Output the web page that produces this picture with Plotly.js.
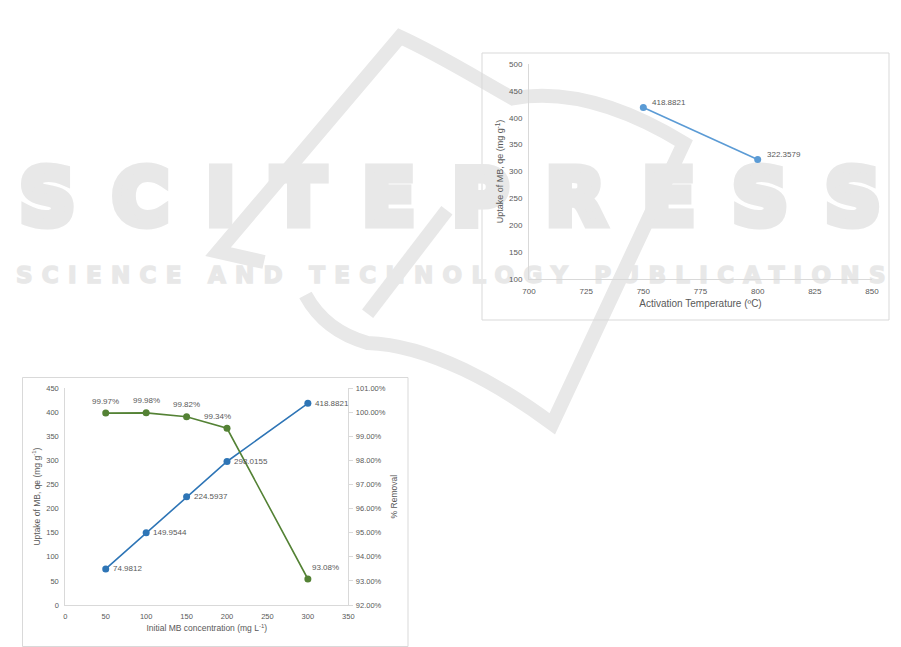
<!DOCTYPE html>
<html>
<head>
<meta charset="utf-8">
<script src="https://cdn.plot.ly/plotly-3.0.1.min.js"></script>
<style>html,body{margin:0;padding:0;background:#fff;}#chart{width:901px;height:647px;}</style>
</head>
<body>
<div id="chart"></div>
<script>
// ---- Data: chart 1 (activation temperature) ----
const tempX = [750, 800];
const tempQe = [418.8821, 322.3579];
const tempLabels = ['418.8821', '322.3579'];

// ---- Data: chart 2 (initial MB concentration) ----
const concX = [50, 100, 150, 200, 300];
const concQe = [74.9812, 149.9544, 224.5937, 298.0155, 418.8821];
const concQeLabels = ['74.9812', '149.9544', '224.5937', '298.0155', '418.8821'];
const removalPct = [99.97, 99.98, 99.82, 99.34, 93.08];
const removalLabels = ['99.97%', '99.98%', '99.82%', '99.34%', '93.08%'];

// label horizontal offsets for the % labels (styling only)
const removalLabelShift = [0, 0, 0, -10, 18];

const grey = '#595959';
const axisLine = '#d9d9d9';
const blue1 = '#5B9BD5';
const blue2 = '#2E75B6';
const green = '#548235';
const wm = '#e8e8e8';
const fontFam = 'Liberation Sans, Arial, sans-serif';

const traces = [
  {x: tempX, y: tempQe, xaxis: 'x', yaxis: 'y', mode: 'lines+markers',
   line: {color: blue1, width: 1.6}, marker: {color: blue1, size: 7}},
  {x: concX, y: concQe, xaxis: 'x2', yaxis: 'y2', mode: 'lines+markers',
   line: {color: blue2, width: 1.6}, marker: {color: blue2, size: 7}},
  {x: concX, y: removalPct, xaxis: 'x2', yaxis: 'y3', mode: 'lines+markers',
   line: {color: green, width: 1.6}, marker: {color: green, size: 7}}
];

// watermark styling: spaced letters, last letter without trailing space
function spaced(word, spacing, strokeW) {
  const st = 'stroke:' + wm + ';stroke-width:' + strokeW + 'px;';
  return '<span style="letter-spacing:' + spacing + 'px;' + st + '">' + word.slice(0, -1) + '</span>' +
         '<span style="letter-spacing:0px;' + st + '">' + word.slice(-1) + '</span>';
}

const annotations = [];
// watermark text (moved beneath the charts after drawing)
annotations.push({xref: 'paper', yref: 'paper', x: 450/901, y: 0.694, xanchor: 'center', yanchor: 'middle',
  text: spaced('SCITEPRESS', 38, 9), showarrow: false,
  font: {family: 'DejaVu Sans', size: 76, color: wm, weight: 'bold'}});
annotations.push({xref: 'paper', yref: 'paper', x: 450/901, y: 0.575, xanchor: 'center', yanchor: 'middle',
  text: spaced('SCIENCE AND TECHNOLOGY PUBLICATIONS', 9.3, 1.5), showarrow: false,
  font: {family: 'DejaVu Sans', size: 23, color: wm, weight: 'bold'}});

tempX.forEach((x, i) => annotations.push({xref: 'x', yref: 'y', x: x, y: tempQe[i], text: tempLabels[i],
  showarrow: false, xanchor: 'left', yanchor: 'middle', xshift: 7, yshift: 5,
  font: {family: fontFam, size: 8, color: grey}}));
concX.forEach((x, i) => annotations.push({xref: 'x2', yref: 'y2', x: x, y: concQe[i], text: concQeLabels[i],
  showarrow: false, xanchor: 'left', yanchor: 'middle', xshift: 5, yshift: 0,
  font: {family: fontFam, size: 8, color: grey}}));
concX.forEach((x, i) => annotations.push({xref: 'x2', yref: 'y3', x: x, y: removalPct[i], text: removalLabels[i],
  showarrow: false, xanchor: 'center', yanchor: 'middle', xshift: removalLabelShift[i], yshift: 12,
  font: {family: fontFam, size: 8, color: grey}}));

const axBase = {showgrid: false, zeroline: false, showline: true, linecolor: axisLine, linewidth: 1,
  ticks: '', tickfont: {family: fontFam, size: 8, color: grey}, ticklabelstandoff: 4};

const layout = {
  width: 901, height: 647, margin: {l: 0, r: 0, t: 0, b: 0},
  paper_bgcolor: '#fff', plot_bgcolor: 'rgba(0,0,0,0)', showlegend: false,
  font: {family: fontFam, color: grey},
  xaxis: Object.assign({}, axBase, {domain: [529/901, 872/901], anchor: 'y', range: [700, 850],
    tick0: 700, dtick: 25,
    title: {text: 'Activation Temperature (ºC)', font: {family: fontFam, size: 10, color: grey}, standoff: 5}}),
  yaxis: Object.assign({}, axBase, {domain: [1 - 279/647, 1 - 64/647], anchor: 'x', range: [100, 500],
    tick0: 100, dtick: 50,
    title: {text: 'Uptake of MB, qe (mg g<sup>-1</sup>)', font: {family: fontFam, size: 9, color: grey}, standoff: 3}}),
  xaxis2: Object.assign({}, axBase, {domain: [65.3/901, 348.3/901], anchor: 'y2', range: [0, 350],
    tick0: 0, dtick: 50, tickfont: {family: fontFam, size: 7.5, color: grey},
    title: {text: 'Initial MB concentration (mg L<sup>-1</sup>)', font: {family: fontFam, size: 8.5, color: grey}, standoff: 5}}),
  yaxis2: Object.assign({}, axBase, {domain: [1 - 605/647, 1 - 388.3/647], anchor: 'x2', range: [0, 450],
    tick0: 0, dtick: 50, tickfont: {family: fontFam, size: 7.5, color: grey},
    title: {text: 'Uptake of MB, qe (mg g<sup>-1</sup>)', font: {family: fontFam, size: 8.5, color: grey}, standoff: 4}}),
  yaxis3: Object.assign({}, axBase, {overlaying: 'y2', side: 'right', anchor: 'x2', range: [92, 101],
    tick0: 92, dtick: 1, tickformat: '.2f', ticksuffix: '%', ticks: 'outside', ticklen: 4, tickcolor: axisLine,
    ticklabelstandoff: 1, tickfont: {family: fontFam, size: 7.5, color: grey},
    title: {text: '% Removal', font: {family: fontFam, size: 8.5, color: grey}, standoff: 6}}),
  shapes: [
    // watermark swoosh (decoration)
    {type: 'path', xref: 'paper', yref: 'paper', layer: 'below',
     path: 'M 0.293,0.595 L 0.242,0.611 L 0.444,0.943 C 0.488,0.915 0.533,0.876 0.569,0.848 C 0.633,0.864 0.699,0.83 0.759,0.779 L 0.613,0.345 C 0.555,0.405 0.477,0.467 0.408,0.470 C 0.377,0.482 0.353,0.508 0.339,0.544',
     line: {color: wm, width: 14}},
    {type: 'line', xref: 'paper', yref: 'paper', layer: 'below',
     x0: 0.496, y0: 0.675, x1: 0.408, y1: 0.515, line: {color: wm, width: 14}},
    // chart frames
    {type: 'rect', xref: 'paper', yref: 'paper', x0: 482/901, x1: 889/901, y0: 1 - 320/647, y1: 1 - 53/647,
     line: {color: axisLine, width: 1}, layer: 'below'},
    {type: 'rect', xref: 'paper', yref: 'paper', x0: 22.5/901, x1: 408/901, y0: 1 - 646.5/647, y1: 1 - 377.5/647,
     line: {color: axisLine, width: 1}, layer: 'below'}
  ],
  annotations: annotations
};

Plotly.newPlot('chart', traces, layout, {displayModeBar: false, staticPlot: true}).then(gd => {
  // place the watermark text beneath the charts, like the page background in the reference
  const below = gd.querySelector('.main-svg .layer-below');
  ['0', '1'].forEach(idx => {
    const g = gd.querySelector('.infolayer .annotation[data-index="' + idx + '"]');
    if (below && g) below.appendChild(g);
  });
});
</script>
</body>
</html>
